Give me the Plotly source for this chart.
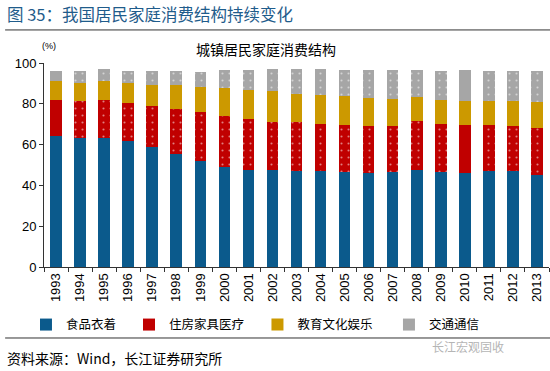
import plotly.graph_objects as go

years = [str(y) for y in range(1993, 2014)]
food = [64.0, 63.2, 63.2, 61.9, 58.6, 55.4, 52.1, 49.2, 47.7, 47.4, 46.9,
        46.9, 46.6, 46.1, 46.6, 47.7, 46.6, 46.1, 46.9, 46.9, 45.2]
housing = [17.9, 18.3, 18.7, 18.6, 20.3, 22.2, 23.7, 25.0, 25.0, 23.5, 24.0,
           23.3, 23.2, 23.2, 22.7, 24.0, 23.6, 23.3, 22.5, 22.0, 22.9]
education = [9.1, 8.7, 9.1, 9.7, 10.5, 11.4, 12.4, 13.5, 14.2, 15.2, 14.1,
             14.3, 14.0, 13.5, 13.0, 11.8, 11.7, 11.8, 12.1, 12.3, 12.8]
transport = [4.9, 5.7, 6.2, 5.7, 6.5, 6.9, 7.2, 9.0, 9.8, 11.1, 12.2,
             12.7, 12.9, 13.9, 14.4, 13.2, 14.3, 15.5, 14.7, 15.0, 15.3]
names = ["食品衣着", "住房家具医疗", "教育文化娱乐", "交通通信"]
colors = ["#0b5a8c", "#c00000", "#cc9900", "#a6a6a6"]
dotted = ["" if y in ("1993", "2010") else "." for y in years]

FONT = "Liberation Sans, Arial, Noto Sans CJK SC, sans-serif"
CJK = "Noto Sans CJK SC, Liberation Sans, sans-serif"

legend_ids = ["legend", "legend2", "legend3", "legend4"]
legend_x = [-0.0357, 0.1683, 0.4227, 0.6831]

fig = go.Figure()
for i, (name, vals) in enumerate(zip(names, [food, housing, education, transport])):
    marker = dict(color=colors[i], line=dict(width=0))
    if i in (1, 3):
        marker["pattern"] = dict(shape=dotted, fgcolor="white", bgcolor=colors[i],
                                 size=7, solidity=0.07, fillmode="overlay")
    fig.add_trace(go.Bar(x=years, y=vals, name=name, marker=marker,
                         legend=legend_ids[i]))

legend_cfg = {}
for lid, lx in zip(legend_ids, legend_x):
    legend_cfg[lid] = dict(orientation="h", x=lx, y=-0.284, xanchor="left",
                           yanchor="middle",
                           font=dict(family=CJK, size=12.5, color="#000000"),
                           itemwidth=30, bgcolor="rgba(0,0,0,0)")

fig.update_layout(
    barmode="stack",
    bargap=0.52,
    width=550, height=371,
    margin=dict(l=44, r=1, t=63, b=104, autoexpand=False),
    paper_bgcolor="white", plot_bgcolor="white",
    font=dict(family=FONT, size=13, color="#000000"),
    showlegend=True,
    **legend_cfg,
    xaxis=dict(type="category", tickangle=-90, showline=True, linecolor="#333333",
               linewidth=1, ticks="outside", ticklen=4, tickcolor="#333333",
               tickson="boundaries", showgrid=False, automargin=False,
               tickfont=dict(family=FONT, size=13, color="#000000")),
    yaxis=dict(range=[0, 100], dtick=20, showline=True, linecolor="#333333",
               linewidth=1, ticks="outside", ticklen=4, tickcolor="#333333",
               showgrid=False, zeroline=False, automargin=False,
               tickfont=dict(family=FONT, size=13, color="#000000")),
    shapes=[
        dict(type="line", xref="paper", yref="paper", x0=-0.077, x1=1.002,
             y0=1.162, y1=1.162, line=dict(color="#333333", width=1)),
        dict(type="line", xref="paper", yref="paper", x0=-0.077, x1=1.002,
             y0=-0.348, y1=-0.348, line=dict(color="#333333", width=1)),
    ],
    annotations=[
        dict(text="图 35：我国居民家庭消费结构持续变化", xref="paper", yref="paper",
             x=-0.077, y=1.24, xanchor="left", yanchor="middle", showarrow=False,
             font=dict(family=CJK, size=16.5, color="#1f5c8b")),
        dict(text="(%)", xref="paper", yref="paper", x=0.01, y=1.083,
             xanchor="center", yanchor="middle", showarrow=False,
             font=dict(family=FONT, size=9, color="#000000")),
        dict(text="城镇居民家庭消费结构", xref="paper", yref="paper", x=0.44, y=1.069,
             xanchor="center", yanchor="middle", showarrow=False,
             font=dict(family=CJK, size=14, color="#000000")),
        dict(text="资料来源：Wind，长江证券研究所", xref="paper", yref="paper",
             x=-0.077, y=-0.446, xanchor="left", yanchor="middle", showarrow=False,
             font=dict(family=CJK, size=14, color="#000000")),
        dict(text="长江宏观固收", xref="paper", yref="paper",
             x=0.764, y=-0.392, xanchor="left", yanchor="middle", showarrow=False,
             font=dict(family=CJK, size=12, color="#b5b5b5")),
    ],
)

fig.write_html("out.html", post_script="document.body.style.margin='0';",
               config={"displayModeBar": False})
